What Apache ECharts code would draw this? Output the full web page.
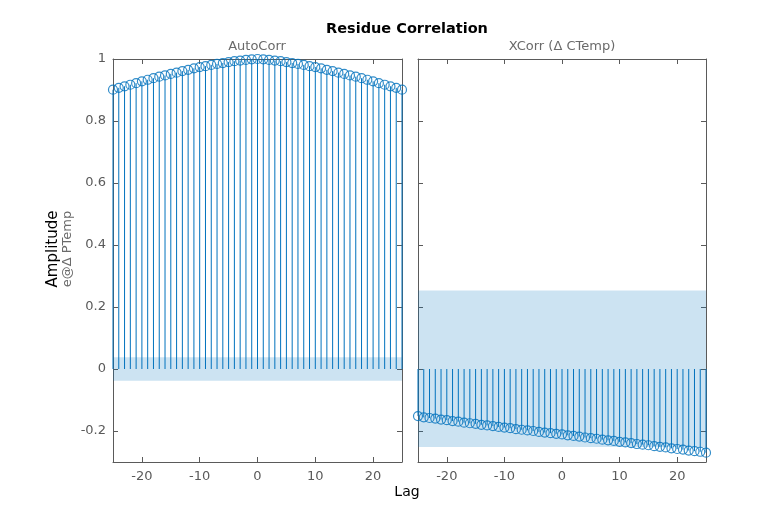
<!DOCTYPE html>
<html>
<head>
<meta charset="utf-8">
<script src="https://cdn.jsdelivr.net/npm/echarts@6/dist/echarts.min.js"></script>
<style>html,body{margin:0;padding:0;background:#fff}#c{width:780px;height:520px}</style>
</head>
<body>
<div id="c"></div>
<script>
const lags = [-25,-24,-23,-22,-21,-20,-19,-18,-17,-16,-15,-14,-13,-12,-11,-10,-9,-8,-7,-6,-5,-4,-3,-2,-1,0,1,2,3,4,5,6,7,8,9,10,11,12,13,14,15,16,17,18,19,20,21,22,23,24,25];
const autoCorr = [0.901,0.907,0.912,0.917,0.922,0.928,0.933,0.938,0.943,0.947,0.952,0.956,0.961,0.965,0.970,0.974,0.977,0.981,0.984,0.987,0.990,0.993,0.995,0.997,0.999,1.000,0.999,0.997,0.995,0.993,0.990,0.987,0.984,0.981,0.977,0.974,0.970,0.965,0.961,0.956,0.952,0.947,0.943,0.938,0.933,0.928,0.922,0.917,0.912,0.907,0.901];
const xCorr = [-0.152,-0.156,-0.158,-0.160,-0.163,-0.165,-0.168,-0.170,-0.173,-0.175,-0.177,-0.180,-0.182,-0.184,-0.187,-0.189,-0.191,-0.194,-0.196,-0.198,-0.200,-0.203,-0.205,-0.207,-0.209,-0.211,-0.214,-0.216,-0.218,-0.221,-0.223,-0.225,-0.228,-0.230,-0.232,-0.235,-0.237,-0.239,-0.242,-0.244,-0.246,-0.249,-0.251,-0.253,-0.256,-0.258,-0.260,-0.263,-0.265,-0.267,-0.270];
const autoBand = [-0.038, 0.038];
const xBand = [-0.252, 0.253];
const xTicks = [-20,-10,0,10,20];
const yTicks = [-0.2,0,0.2,0.4,0.6,0.8,1];
const yTickLabels = ['-0.2','0','0.2','0.4','0.6','0.8','1'];

const BLUE = '#0072BD';
const AX = '#5a5a5a';
const FONT = 'DejaVu Sans';

const chart = echarts.init(document.getElementById('c'));

function xAx(grid, pos, showLabel) {
  return {
    type: 'value', gridIndex: grid, position: pos, min: -25, max: 25,
    splitLine: {show: false},
    axisLine: {show: true, onZero: false, lineStyle: {color: AX, width: 1}},
    axisTick: {show: true, inside: true, length: 5, customValues: xTicks, lineStyle: {color: AX}},
    axisLabel: {show: showLabel, customValues: xTicks, margin: 8, color: AX, fontFamily: FONT, fontSize: 13}
  };
}
function yAx(grid, pos, showLabel) {
  return {
    type: 'value', gridIndex: grid, position: pos, min: -0.3, max: 1,
    splitLine: {show: false},
    axisLine: {show: true, onZero: false, lineStyle: {color: AX, width: 1}},
    axisTick: {show: true, inside: true, length: 5, customValues: yTicks, lineStyle: {color: AX}},
    axisLabel: {show: showLabel, customValues: yTicks, margin: 7, color: AX, fontFamily: FONT, fontSize: 13,
      formatter: function (v) { const i = yTicks.findIndex(t => Math.abs(t - v) < 1e-9); return i >= 0 ? yTickLabels[i] : ''; }}
  };
}

function stems(xi, yi, vals, band) {
  return {
    type: 'custom', xAxisIndex: xi, yAxisIndex: yi,
    data: lags.map((l, i) => [l, vals[i]]),
    renderItem: function (params, api) {
      const p0 = api.coord([api.value(0), 0]);
      const p1 = api.coord([api.value(0), api.value(1)]);
      return {type: 'line', shape: {x1: p0[0], y1: p0[1], x2: p1[0], y2: p1[1]},
        style: {stroke: BLUE, lineWidth: 1}};
    },
    silent: true, z: 2,
    markArea: {silent: true, itemStyle: {color: 'rgba(0,114,189,0.2)'},
      data: [[{xAxis: -25, yAxis: band[0]}, {xAxis: 25, yAxis: band[1]}]]}
  };
}
function marks(xi, yi, vals) {
  return {
    type: 'scatter', xAxisIndex: xi, yAxisIndex: yi,
    data: lags.map((l, i) => [l, vals[i]]),
    symbol: 'circle', symbolSize: 9,
    itemStyle: {color: 'rgba(0,0,0,0)', borderColor: BLUE, borderWidth: 1.2},
    silent: true, z: 3
  };
}

chart.setOption({
  animation: false,
  grid: [
    {left: 113, top: 59, width: 289, height: 403},
    {left: 418, top: 59, width: 288, height: 403}
  ],
  xAxis: [xAx(0, 'bottom', true), xAx(0, 'top', false), xAx(1, 'bottom', true), xAx(1, 'top', false)],
  yAxis: [yAx(0, 'left', true), yAx(0, 'right', false), yAx(1, 'left', false), yAx(1, 'right', false)],
  series: [
    stems(0, 0, autoCorr, autoBand),
    marks(0, 0, autoCorr),
    stems(2, 2, xCorr, xBand),
    marks(2, 2, xCorr)
  ],
  graphic: [
    {type: 'text', x: 407, y: 29, style: {text: 'Residue Correlation', font: 'bold 14.5px "DejaVu Sans"', fill: '#000', align: 'center', verticalAlign: 'middle'}},
    {type: 'text', x: 257, y: 47, style: {text: 'AutoCorr', font: '13px "DejaVu Sans"', fill: '#6a6a6a', align: 'center', verticalAlign: 'middle'}},
    {type: 'text', x: 562, y: 47, style: {text: 'XCorr (Δ CTemp)', font: '13px "DejaVu Sans"', fill: '#6a6a6a', align: 'center', verticalAlign: 'middle'}},
    {type: 'text', x: 407, y: 492, style: {text: 'Lag', font: '14px "DejaVu Sans"', fill: '#000', align: 'center', verticalAlign: 'middle'}},
    {type: 'text', x: 53, y: 249, rotation: Math.PI / 2, style: {text: 'Amplitude', font: '15px "DejaVu Sans"', fill: '#000', align: 'center', verticalAlign: 'middle'}},
    {type: 'text', x: 68, y: 249, rotation: Math.PI / 2, style: {text: 'e@Δ PTemp', font: '13px "DejaVu Sans"', fill: '#6a6a6a', align: 'center', verticalAlign: 'middle'}}
  ]
});
</script>
</body>
</html>
